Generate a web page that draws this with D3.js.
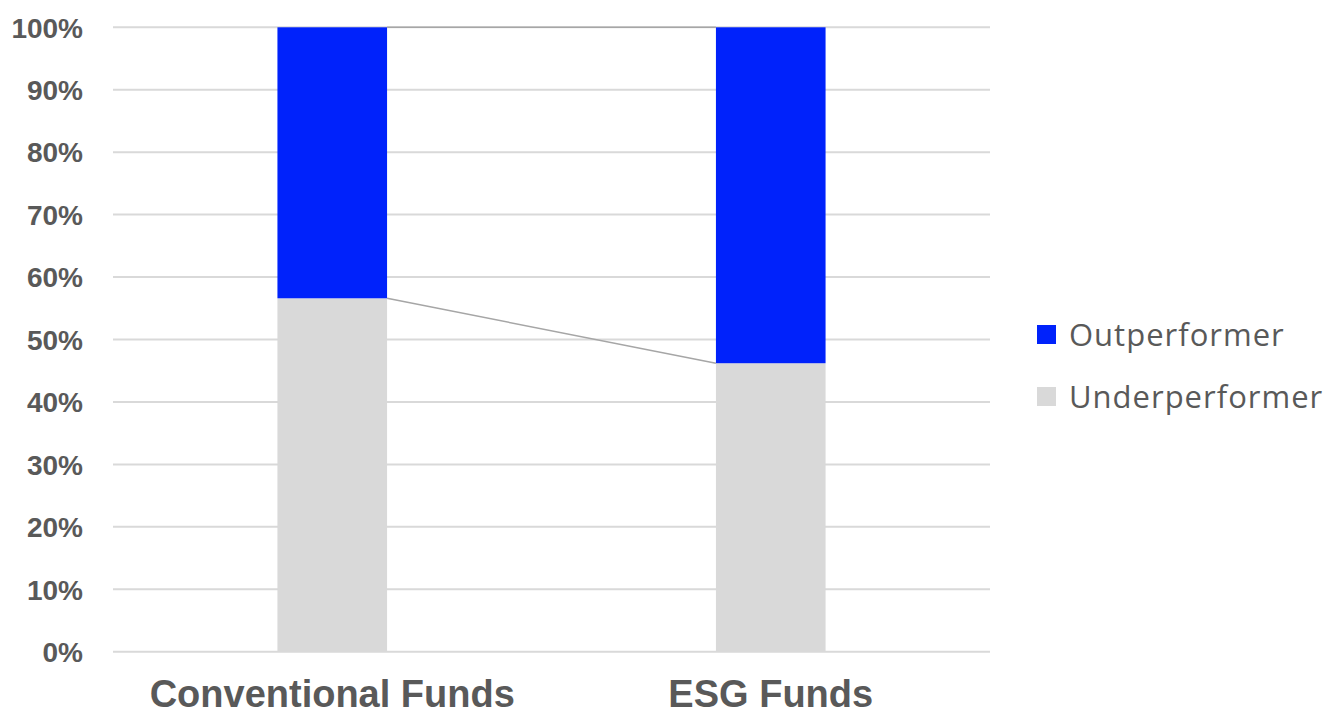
<!DOCTYPE html>
<html>
<head>
<meta charset="utf-8">
<script src="https://cdn.jsdelivr.net/npm/d3@7"></script>
<style>
  html, body { margin: 0; padding: 0; background: #ffffff; }
  svg { display: block; }
</style>
</head>
<body>
<svg id="chart" width="1341" height="711"></svg>
<script>
const categories = ["Conventional Funds", "ESG Funds"];
const underperformer = [56.6, 46.2];
const outperformer = [43.4, 53.8];
const seriesNames = ["Outperformer", "Underperformer"];
const yTicks = [0, 10, 20, 30, 40, 50, 60, 70, 80, 90, 100];

const svg = d3.select("#chart");
const plotLeft = 113, plotRight = 990, plotTop = 27.3, plotBottom = 651.7;

const x = d3.scaleBand().domain(categories).range([plotLeft, plotRight])
  .paddingInner(0.75).paddingOuter(0.375);
const y = d3.scaleLinear().domain([0, 100]).range([plotBottom, plotTop]);

const colors = { Outperformer: "#0022fb", Underperformer: "#d9d9d9" };

// gridlines
svg.append("g").selectAll("line").data(yTicks).join("line")
  .attr("x1", plotLeft).attr("x2", plotRight)
  .attr("y1", d => y(d)).attr("y2", d => y(d))
  .attr("stroke", "#d9d9d9").attr("stroke-width", 2);

// y axis labels
const yAxis = d3.axisLeft(y).tickValues(yTicks).tickFormat(d => d + "%").tickSize(0).tickPadding(0);
const gy = svg.append("g").attr("transform", `translate(83,0)`).call(yAxis);
gy.select(".domain").remove();
gy.selectAll("text")
  .attr("font-family", "'Liberation Sans', Arial, sans-serif")
  .attr("font-weight", "bold").attr("font-size", 28)
  .attr("fill", "#595959").attr("dy", "0.35em");

// stacked data
const rows = categories.map((c, i) => ({ cat: c, Underperformer: underperformer[i], Outperformer: outperformer[i] }));
const stack = d3.stack().keys(["Underperformer", "Outperformer"]);
const stacked = stack(rows);

svg.append("g").selectAll("g").data(stacked).join("g")
  .attr("fill", d => colors[d.key])
  .selectAll("rect").data(d => d).join("rect")
  .attr("x", d => x(d.data.cat))
  .attr("width", x.bandwidth())
  .attr("y", d => y(d[1]))
  .attr("height", d => y(d[0]) - y(d[1]));

// series lines
const sl = svg.append("g").attr("stroke", "#a6a6a6").attr("stroke-width", 1.5).attr("fill", "none");
stacked.forEach(s => {
  for (let i = 0; i < s.length - 1; i++) {
    sl.append("line")
      .attr("x1", x(s[i].data.cat) + x.bandwidth()).attr("y1", y(s[i][1]))
      .attr("x2", x(s[i + 1].data.cat)).attr("y2", y(s[i + 1][1]));
  }
});

// x axis labels
const xAxis = d3.axisBottom(x).tickSize(0).tickPadding(0);
const gx = svg.append("g").attr("transform", `translate(0,707)`).call(xAxis);
gx.select(".domain").remove();
gx.selectAll("text")
  .attr("font-family", "'Liberation Sans', Arial, sans-serif")
  .attr("font-weight", "bold").attr("font-size", 38)
  .attr("fill", "#595959").attr("dy", 0).attr("y", 0);

// legend
const legendY = [346, 408];
const lg = svg.append("g");
seriesNames.forEach((name, i) => {
  lg.append("rect").attr("x", 1037).attr("y", legendY[i] - 21).attr("width", 19).attr("height", 19)
    .attr("fill", colors[name]);
  lg.append("text").attr("x", 1069).attr("y", legendY[i])
    .attr("font-family", "'Open Sans', sans-serif").attr("font-size", 31)
    .attr("letter-spacing", 1)
    .attr("fill", "#595959").text(name);
});
</script>
</body>
</html>
